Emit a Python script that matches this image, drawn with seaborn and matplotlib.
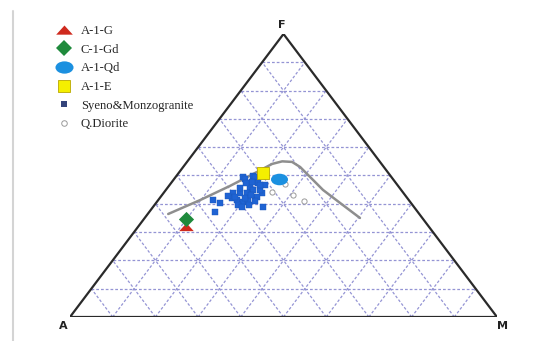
import numpy as np
import pandas as pd
import matplotlib
matplotlib.use("Agg")
import matplotlib.pyplot as plt
from matplotlib.path import Path
from matplotlib.markers import MarkerStyle
from matplotlib.lines import Line2D
import seaborn as sns

sns.set_theme(style="white")
plt.rcParams["font.family"] = ["Liberation Serif", "DejaVu Serif"]

# ---- data (percent of A, F, M; A = 100 - F - M) ----
syeno_F = [49.5, 49.8, 48.8, 49.5, 47.3, 45.9, 44.9, 46.6, 43.8, 43.8, 43.8, 43.8,
           42.0, 41.3, 40.6, 41.3, 42.4, 39.6, 38.9, 41.3, 40.3, 37.1, 38.9, 44.9,
           47.7, 42.4, 42.0, 39.6, 41.0, 46.6, 45.6, 42.8, 43.1, 47.3]
syeno_M = [15.8, 18.0, 16.6, 18.6, 20.4, 19.2, 20.4, 22.4, 23.1, 19.5, 16.3, 17.9,
           16.9, 18.4, 20.2, 21.0, 22.6, 19.6, 20.9, 12.8, 15.0, 15.4, 25.8, 22.1,
           18.8, 17.4, 20.0, 22.1, 22.8, 21.2, 17.0, 15.6, 20.8, 17.6]

diorite_F = [44.2, 47.0, 43.1, 41.0]
diorite_M = [25.2, 26.9, 30.7, 34.3]

a1g_F, a1g_M = [31.8], [11.3]
c1gd_F, c1gd_M = [34.6], [9.9]
a1qd_F, a1qd_M = [48.8], [24.6]
a1e_F, a1e_M = [50.8], [19.8]

# tholeiitic / calc-alkaline dividing curve
curve_F = [36.4, 41.3, 46.3, 50.9, 54.1, 55.0, 54.8, 53.0, 44.9, 40.3, 35.0]
curve_M = [4.8, 9.8, 14.3, 17.9, 20.3, 22.2, 24.6, 27.4, 36.8, 43.1, 50.4]

labels = ["A-1-G", "C-1-Gd", "A-1-Qd", "A-1-E", "Syeno&Monzogranite", "Q.Diorite"]


def to_xy(F, M):
    F = np.asarray(F, float) / 100.0
    M = np.asarray(M, float) / 100.0
    return M + F / 2.0, F


# squashed marker shapes
tri_path = Path([(-1, -0.5), (1, -0.5), (0, 0.6), (-1, -0.5)],
                [Path.MOVETO, Path.LINETO, Path.LINETO, Path.CLOSEPOLY])
tri_marker = MarkerStyle(tri_path)
circ = Path.unit_circle()
ell_marker = MarkerStyle(Path(circ.vertices * np.array([1.0, 0.68]), circ.codes))

fig = plt.figure(figsize=(5.42, 3.41), dpi=100)
fig.patch.set_facecolor("white")
ax = fig.add_axes([70 / 542, (341 - 317) / 341, 427 / 542, 283 / 341])
ax.set_xlim(0, 1)
ax.set_ylim(0, 1)
ax.axis("off")

# page edge line
fig.add_artist(Line2D([13 / 542, 13 / 542], [0, 1 - 11 / 341], transform=fig.transFigure,
                      color="#d4d4d4", lw=1.5))

# 10 % grid
grid_kw = dict(color="#9494d4", lw=0.9, ls=(0, (2.2, 1.6)), zorder=1)
for i in range(1, 10):
    t = i / 10
    # constant F
    x, y = to_xy([t * 100, t * 100], [0, (1 - t) * 100])
    ax.plot(x, y, **grid_kw)
    # constant M
    x, y = to_xy([0, (1 - t) * 100], [t * 100, t * 100])
    ax.plot(x, y, **grid_kw)
    # constant A
    x, y = to_xy([0, (1 - t) * 100], [(1 - t) * 100, 0])
    ax.plot(x, y, **grid_kw)

# triangle frame
x, y = to_xy([0, 0, 100, 0], [0, 100, 0, 0])
ax.plot(x, y, color="#2a2a2a", lw=1.6, zorder=3, solid_joinstyle="miter")

# dividing curve
cx, cy = to_xy(curve_F, curve_M)
sns.lineplot(x=cx, y=cy, sort=False, ax=ax, color="#8e8e8e", lw=1.8, zorder=4)

# samples
sx, sy = to_xy(syeno_F, syeno_M)
sns.scatterplot(x=sx, y=sy, ax=ax, marker="s", s=24, color="#1f63d3",
                edgecolor="#1a55b8", linewidth=0.3, zorder=5, legend=False)
dx, dy = to_xy(diorite_F, diorite_M)
sns.scatterplot(x=dx, y=dy, ax=ax, marker="o", s=14, facecolor="white",
                edgecolor="#9a9a9a", linewidth=0.7, zorder=5, legend=False)

px, py = to_xy(a1g_F, a1g_M)
sns.scatterplot(x=px, y=py, ax=ax, marker=tri_marker, s=110, color="#cf2a1e",
                linewidth=0, zorder=6, legend=False)
px, py = to_xy(c1gd_F, c1gd_M)
sns.scatterplot(x=px, y=py, ax=ax, marker="D", s=60, color="#1f8a3c",
                linewidth=0, zorder=7, legend=False)
px, py = to_xy(a1qd_F, a1qd_M)
sns.scatterplot(x=px, y=py, ax=ax, marker=ell_marker, s=150, color="#1b90e0",
                linewidth=0, zorder=6, legend=False)
px, py = to_xy(a1e_F, a1e_M)
sns.scatterplot(x=px, y=py, ax=ax, marker="s", s=65, color="#f5ef00",
                edgecolor="#b9a800", linewidth=0.6, zorder=7, legend=False)

# vertex labels
vt = dict(fontsize=8, fontweight="bold", family="DejaVu Sans", color="#222222")
ax.text(-0.005, -0.015, "A", ha="right", va="top", **vt)
ax.text(1.0, -0.015, "M", ha="left", va="top", **vt)
ax.text(0.495, 1.015, "F", ha="center", va="bottom", **vt)

# legend
handles = [
    Line2D([], [], ls="", marker=tri_marker, ms=12, color="#cf2a1e", mew=0),
    Line2D([], [], ls="", marker="D", ms=8, color="#1f8a3c", mew=0),
    Line2D([], [], ls="", marker=ell_marker, ms=13, color="#1b90e0", mew=0),
    Line2D([], [], ls="", marker="s", ms=8, mfc="#f5ef00", mec="#b9a800", mew=0.6),
    Line2D([], [], ls="", marker="s", ms=4, color="#34447a", mew=0),
    Line2D([], [], ls="", marker="o", ms=4, mfc="white", mec="#9a9a9a", mew=0.7),
]
fig.legend(handles, labels, loc="upper left", bbox_to_anchor=(50 / 542, 1 - 19 / 341),
           frameon=False, fontsize=9.1, labelspacing=0.52, handletextpad=0.75,
           handlelength=1.2, borderpad=0)

fig.savefig("out.png", dpi=100, facecolor="white")
